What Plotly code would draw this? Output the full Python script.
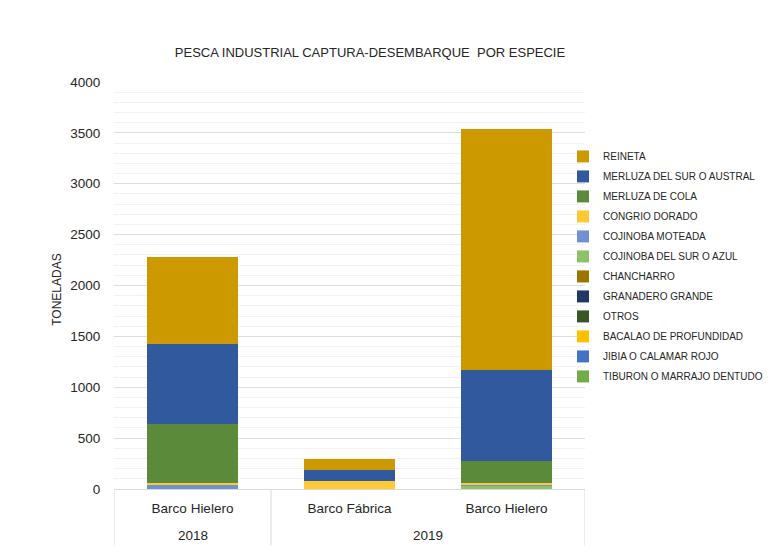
import plotly.graph_objects as go

years = ["2018", "2019", "2019"]
barcos = ["Barco Hielero", "Barco Fábrica", "Barco Hielero"]
year_groups = ["2018", "2019"]

# series listed bottom-to-top of the stack
especies = [
    "TIBURON O MARRAJO DENTUDO",
    "JIBIA O CALAMAR ROJO",
    "BACALAO DE PROFUNDIDAD",
    "OTROS",
    "GRANADERO GRANDE",
    "CHANCHARRO",
    "COJINOBA DEL SUR O AZUL",
    "COJINOBA MOTEADA",
    "CONGRIO DORADO",
    "MERLUZA DE COLA",
    "MERLUZA DEL SUR O AUSTRAL",
    "REINETA",
]
valores = {
    "TIBURON O MARRAJO DENTUDO": [0, 0, 0],
    "JIBIA O CALAMAR ROJO": [0, 0, 0],
    "BACALAO DE PROFUNDIDAD": [0, 0, 0],
    "OTROS": [0, 0, 0],
    "GRANADERO GRANDE": [0, 0, 0],
    "CHANCHARRO": [0, 0, 0],
    "COJINOBA DEL SUR O AZUL": [0, 0, 36],
    "COJINOBA MOTEADA": [46, 0, 13],
    "CONGRIO DORADO": [16, 79, 13],
    "MERLUZA DE COLA": [574, 0, 213],
    "MERLUZA DEL SUR O AUSTRAL": [785, 111, 897],
    "REINETA": [861, 105, 2371],
}
colores = {
    "TIBURON O MARRAJO DENTUDO": "#70AD47",
    "JIBIA O CALAMAR ROJO": "#4472C4",
    "BACALAO DE PROFUNDIDAD": "#FFC000",
    "OTROS": "#375623",
    "GRANADERO GRANDE": "#203864",
    "CHANCHARRO": "#9C7500",
    "COJINOBA DEL SUR O AZUL": "#8DC268",
    "COJINOBA MOTEADA": "#6F91D4",
    "CONGRIO DORADO": "#FFC933",
    "MERLUZA DE COLA": "#5A8A3A",
    "MERLUZA DEL SUR O AUSTRAL": "#315A9E",
    "REINETA": "#CC9A00",
}

xpos = list(range(len(barcos)))

fig = go.Figure()
for esp in especies:
    fig.add_trace(go.Bar(
        x=xpos,
        y=valores[esp],
        name=esp,
        legendgroup=esp,
        legendrank=len(especies) - especies.index(esp),
        marker=dict(color=colores[esp], line=dict(width=0)),
    ))

# page offset (body margin 8px)
OFF = 8
W, H = 776 - OFF, 553 - OFF
L, R, T = 114 - OFF, 776 - 585, 82 - OFF
B = H - (489.5 - OFF)
pw, ph = W - L - R, H - T - B

def px_x(p):
    return (p - OFF - L) / pw

def px_y(p):
    return (H - B - (p - OFF)) / ph

# year group labels & dividers
annotations = []
for yr in year_groups:
    idx = [i for i, y in enumerate(years) if y == yr]
    annotations.append(dict(
        x=sum(idx) / len(idx), xref="x", y=px_y(536), yref="paper",
        text=yr, showarrow=False, xanchor="center", yanchor="middle",
        font=dict(size=13.5, color="#262626"),
    ))
annotations.append(dict(
    x=px_x(57), xref="paper", y=px_y(290), yref="paper",
    text="TONELADAS", textangle=-90, showarrow=False,
    xanchor="center", yanchor="middle",
    font=dict(size=12, color="#262626"),
))
div_x = [-0.5]
for i in range(1, len(years)):
    if years[i] != years[i - 1]:
        div_x.append(i - 0.5)
div_x.append(len(years) - 0.5)
shapes = [
    dict(type="line", xref="x", yref="paper", x0=d, x1=d, y0=0, y1=px_y(546),
         line=dict(color="#d9d9d9", width=1))
    for d in div_x
]

fig.update_layout(
    width=W, height=H,
    margin=dict(l=L, r=R, t=T, b=B, autoexpand=False),
    paper_bgcolor="white",
    plot_bgcolor="white",
    barmode="stack",
    bargap=0.42,
    font=dict(family="Liberation Sans, Arial, sans-serif", size=12, color="#404040"),
    title=dict(
        text="PESCA INDUSTRIAL CAPTURA-DESEMBARQUE  POR ESPECIE",
        x=(370 - OFF) / W, xanchor="center",
        y=1 - (52 - OFF) / H, yanchor="middle",
        font=dict(size=13, color="#262626"),
    ),
    legend=dict(
        traceorder="grouped",
        x=px_x(563), xanchor="left",
        y=px_y(142), yanchor="top",
        font=dict(size=10, color="#262626"),
        tracegroupgap=1,
        itemwidth=30,
        bgcolor="rgba(0,0,0,0)",
    ),
    showlegend=True,
    xaxis=dict(
        range=[-0.5, len(barcos) - 0.5],
        tickvals=xpos, ticktext=barcos,
        showline=True, linecolor="#d9d9d9", linewidth=1,
        showgrid=False, zeroline=False,
        ticks="outside", ticklen=7, tickcolor="rgba(0,0,0,0)",
        tickfont=dict(size=13.5, color="#262626"),
    ),
    yaxis=dict(
        range=[0, 4000],
        tickvals=[0, 500, 1000, 1500, 2000, 2500, 3000, 3500, 4000],
        showgrid=True, gridcolor="#dedede", gridwidth=1.2,
        minor=dict(dtick=100, showgrid=True, gridcolor="#f2f2f2", gridwidth=1),
        zeroline=False,
        ticks="outside", ticklen=10, tickcolor="rgba(0,0,0,0)",
        tickfont=dict(size=13.5, color="#262626"),
    ),
    annotations=annotations,
    shapes=shapes,
)

fig.write_html("out.html")
